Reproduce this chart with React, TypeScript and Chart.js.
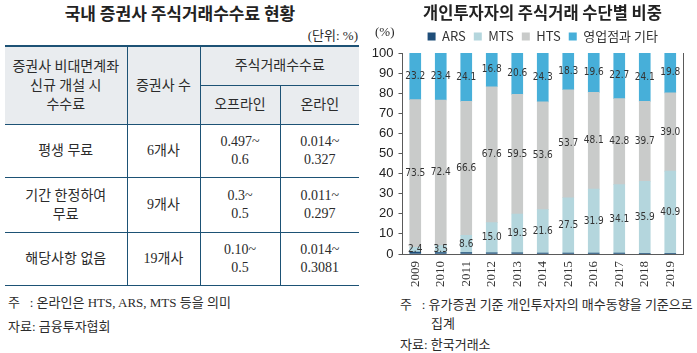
import React, { useEffect, useRef } from "react";
import { Chart, registerables } from "chart.js";

Chart.register(...registerables);

// ---- right chart data ----
const years = ["2009", "2010", "2011", "2012", "2013", "2014", "2015", "2016", "2017", "2018", "2019"];
const arsShare = [0.9, 0.7, 0.7, 0.6, 0.6, 0.5, 0.5, 0.4, 0.4, 0.3, 0.3];
const mtsShare = [2.4, 3.5, 8.6, 15.0, 19.3, 21.6, 27.5, 31.9, 34.1, 35.9, 40.9];
const htsShare = [73.5, 72.4, 66.6, 67.6, 59.5, 53.6, 53.7, 48.1, 42.8, 39.7, 39.0];
const branchShare = [23.2, 23.4, 24.1, 16.8, 20.6, 24.3, 18.3, 19.6, 22.7, 24.1, 19.8];
const seriesNames = ["ARS", "MTS", "HTS", "영업점과 기타"];
const seriesColors = ["#1f4e79", "#b4d6dd", "#c9cbca", "#47afd9"];
const labelledSeries = [false, true, true, true];
const yMin = 0;
const yMax = 100;
const yStep = 10;

// ---- left table data ----
const feeCategories = ["평생 무료", "기간 한정하여\n무료", "해당사항 없음"];
const brokerCounts = ["6개사", "9개사", "19개사"];
const offlineFees = ["0.497~\n0.6", "0.3~\n0.5", "0.10~\n0.5"];
const onlineFees = ["0.014~\n0.327", "0.011~\n0.297", "0.014~\n0.3081"];

const SERIF = '"Liberation Serif", "Noto Sans CJK KR", serif';
const SANS = '"Noto Sans CJK KR", "Noto Sans", sans-serif';
const LINE = "#1d5275";

const segmentLabels = {
  id: "segmentLabels",
  afterDatasetsDraw(chart: any) {
    const ctx = chart.ctx;
    ctx.save();
    ctx.font = '10px "DejaVu Sans Condensed", "Liberation Sans", sans-serif';
    ctx.fillStyle = "#333";
    ctx.textAlign = "center";
    ctx.textBaseline = "middle";
    chart.data.datasets.forEach((ds: any, di: number) => {
      if (!labelledSeries[di]) return;
      const meta = chart.getDatasetMeta(di);
      meta.data.forEach((el: any, i: number) => {
        const p = el.getProps(["x", "y", "base"], true);
        ctx.fillText(Number(ds.data[i]).toFixed(1), p.x, (p.y + p.base) / 2);
      });
    });
    ctx.restore();
  },
};

const rightFrame = {
  id: "rightFrame",
  afterDraw(chart: any) {
    const { ctx, chartArea } = chart;
    ctx.save();
    ctx.strokeStyle = "#5a5a5a";
    ctx.lineWidth = 1;
    ctx.beginPath();
    ctx.moveTo(Math.round(chartArea.right) + 0.5, chartArea.top);
    ctx.lineTo(Math.round(chartArea.right) + 0.5, chartArea.bottom);
    ctx.stroke();
    ctx.restore();
  },
};

function ShareChart() {
  const ref = useRef<HTMLCanvasElement | null>(null);
  useEffect(() => {
    if (!ref.current) return;
    const chart = new Chart(ref.current, {
      type: "bar",
      data: {
        labels: years,
        datasets: [arsShare, mtsShare, htsShare, branchShare].map((d, i) => ({
          label: seriesNames[i],
          data: d,
          backgroundColor: seriesColors[i],
          borderWidth: 0,
          barThickness: 11,
        })),
      },
      options: {
        responsive: false,
        animation: false,
        layout: { padding: { top: 22, right: 14, bottom: 0, left: 0 } },
        plugins: {
          tooltip: { enabled: false },
          legend: {
            position: "top",
            fullSize: false,
            labels: {
              boxWidth: 8,
              boxHeight: 8,
              padding: 8,
              color: "#333",
              font: { size: 13, family: SANS },
            },
          },
        },
        scales: {
          x: {
            stacked: true,
            grid: { display: false, drawTicks: false },
            border: { display: true, color: "#5a5a5a", width: 1 },
            ticks: {
              maxRotation: 90,
              minRotation: 90,
              padding: 7,
              color: "#333",
              font: { size: 13, family: '"Liberation Serif", serif' },
            },
            afterFit: (s: any) => {
              s.height = 38;
            },
          },
          y: {
            stacked: true,
            min: yMin,
            max: yMax,
            grid: { drawOnChartArea: false, drawTicks: true, tickLength: 4, color: "#5a5a5a" },
            border: { display: true, color: "#5a5a5a", width: 1 },
            ticks: {
              stepSize: yStep,
              padding: 5,
              color: "#222",
              font: { size: 13, family: '"Liberation Sans", sans-serif' },
            },
            afterFit: (s: any) => {
              s.width = 42.5;
            },
          },
        },
      },
      plugins: [segmentLabels, rightFrame],
    });
    return () => chart.destroy();
  }, []);
  return (
    <canvas
      ref={ref}
      width={337}
      height={292}
      style={{ position: "absolute", left: 360, top: 0, width: 337, height: 292 }}
    />
  );
}

const cell = (extra: React.CSSProperties = {}): React.CSSProperties => ({
  borderLeft: `1px solid ${LINE}`,
  borderBottom: `1px solid ${LINE}`,
  textAlign: "center",
  verticalAlign: "middle",
  padding: 0,
  whiteSpace: "pre-line",
  ...extra,
});

export default function App() {
  const head: React.CSSProperties = { background: "#e9ecef" };
  return (
    <div
      style={{
        position: "absolute",
        left: 0,
        top: 0,
        width: 697,
        height: 353,
        background: "#fff",
        fontFamily: SERIF,
        color: "#2b2b2b",
        overflow: "hidden",
      }}
    >
      <div
        style={{
          position: "absolute",
          left: 0,
          width: 360,
          top: 0,
          textAlign: "center",
          fontFamily: SANS,
          fontWeight: 700,
          fontSize: 17,
          color: "#222",
        }}
      >
        국내 증권사 주식거래수수료 현황
      </div>
      <div style={{ position: "absolute", right: 339, top: 25, fontSize: 13 }}>(단위: %)</div>
      <table
        style={{
          position: "absolute",
          left: 5,
          top: 45,
          width: 354,
          borderCollapse: "collapse",
          borderTop: `2px solid ${LINE}`,
          fontSize: 14,
          lineHeight: "19px",
          tableLayout: "fixed",
        }}
      >
        <colgroup>
          <col style={{ width: 122 }} />
          <col style={{ width: 73 }} />
          <col style={{ width: 80 }} />
          <col style={{ width: 79 }} />
        </colgroup>
        <tbody>
          <tr style={{ height: 39 }}>
            <td rowSpan={2} style={cell({ ...head, borderLeft: "none" })}>
              {"증권사 비대면계좌\n신규 개설 시\n수수료"}
            </td>
            <td rowSpan={2} style={cell(head)}>
              증권사 수
            </td>
            <td colSpan={2} style={cell(head)}>
              주식거래수수료
            </td>
          </tr>
          <tr style={{ height: 39 }}>
            <td style={cell(head)}>오프라인</td>
            <td style={cell(head)}>온라인</td>
          </tr>
          {feeCategories.map((c, i) => (
            <tr key={c} style={{ height: i === 1 ? 55 : 53 }}>
              <td style={cell({ borderLeft: "none" })}>{c}</td>
              <td style={cell()}>{brokerCounts[i]}</td>
              <td style={cell({ lineHeight: "18px" })}>{offlineFees[i]}</td>
              <td style={cell({ lineHeight: "18px" })}>{onlineFees[i]}</td>
            </tr>
          ))}
        </tbody>
      </table>
      <div style={{ position: "absolute", left: 8, top: 292, fontSize: 13, whiteSpace: "pre" }}>
        {"주   : 온라인은 HTS, ARS, MTS 등을 의미"}
      </div>
      <div style={{ position: "absolute", left: 8, top: 316, fontSize: 13 }}>자료: 금융투자협회</div>

      <ShareChart />
      <div
        style={{
          position: "absolute",
          left: 400,
          width: 285,
          top: 0,
          textAlign: "center",
          fontFamily: SANS,
          fontWeight: 700,
          fontSize: 16.5,
          color: "#222",
        }}
      >
        개인투자자의 주식거래 수단별 비중
      </div>
      <div style={{ position: "absolute", left: 375, top: 24, fontSize: 13 }}>(%)</div>
      <div style={{ position: "absolute", left: 400, top: 294, fontSize: 13, whiteSpace: "pre" }}>
        {"주   : 유가증권 기준 개인투자자의 매수동향을 기준으로"}
      </div>
      <div style={{ position: "absolute", left: 431, top: 313, fontSize: 13 }}>집계</div>
      <div style={{ position: "absolute", left: 400, top: 334, fontSize: 13 }}>자료: 한국거래소</div>
    </div>
  );
}
